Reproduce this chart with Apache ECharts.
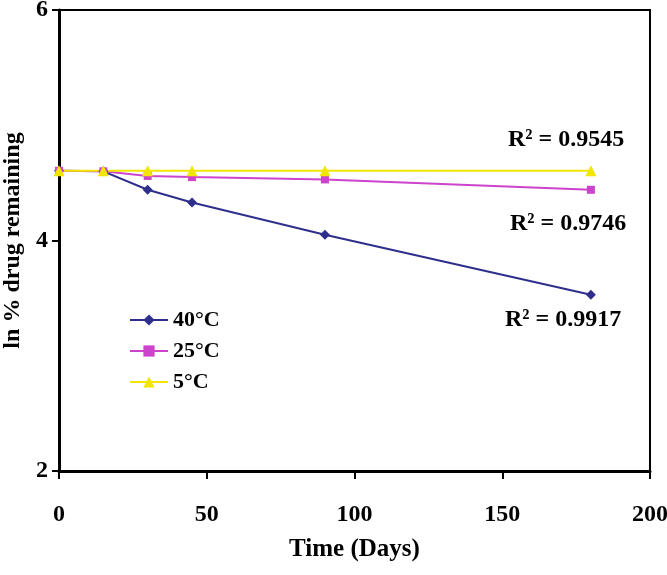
<!DOCTYPE html>
<html><head><meta charset="utf-8">
<script src="https://cdn.jsdelivr.net/npm/echarts@6/dist/echarts.min.js"></script>
<style>html,body{margin:0;padding:0;background:#fff}#c{width:667px;height:575px}</style>
</head><body><div id="c"></div>
<script>
const days = [0, 15, 30, 45, 90, 180];
const s40 = [4.605, 4.60, 4.44, 4.33, 4.05, 3.53];
const s25 = [4.605, 4.60, 4.56, 4.55, 4.53, 4.44];
const s5  = [4.605, 4.605, 4.605, 4.605, 4.605, 4.605];
const names = ['40°C', '25°C', '5°C'];
const r2 = ['R² = 0.9917', 'R² = 0.9746', 'R² = 0.9545'];
const xTicks = [0, 50, 100, 150, 200];
const yTicks = [2, 4, 6];

const font = '"Liberation Serif", "DejaVu Serif", serif';
const chart = echarts.init(document.getElementById('c'));
const pair = (arr) => days.map((d, i) => [d, arr[i]]);
chart.setOption({
  animation: false,
  grid: {left: 59, right: 17, top: 10, bottom: 104, show: true, borderColor: '#000', borderWidth: 2,
         containLabel: false, outerBoundsMode: 'none'},
  xAxis: {
    type: 'value', min: xTicks[0], max: xTicks[xTicks.length - 1], interval: 50,
    name: 'Time (Days)', nameLocation: 'middle', nameGap: 66,
    nameTextStyle: {fontFamily: font, fontWeight: 'bold', fontSize: 25, color: '#000'},
    axisLine: {lineStyle: {color: '#000', width: 3}},
    axisTick: {show: true, length: 8, lineStyle: {color: '#000', width: 2}},
    axisLabel: {fontFamily: font, fontWeight: 'bold', fontSize: 24, color: '#000', margin: 32},
    splitLine: {show: false}
  },
  yAxis: {
    type: 'value', min: yTicks[0], max: yTicks[yTicks.length - 1], interval: 2,
    name: 'ln % drug remaining', nameLocation: 'middle', nameGap: 34, nameRotate: 90,
    nameTextStyle: {fontFamily: font, fontWeight: 'bold', fontSize: 24, color: '#000'},
    axisLine: {lineStyle: {color: '#000', width: 3}},
    axisTick: {show: true, length: 7, lineStyle: {color: '#000', width: 2}},
    axisLabel: {fontFamily: font, fontWeight: 'bold', fontSize: 24, color: '#000', margin: 11},
    splitLine: {show: false}
  },
  legend: {
    orient: 'vertical', left: 124, top: 304, itemGap: 9, itemWidth: 38, itemHeight: 14,
    textStyle: {fontFamily: font, fontWeight: 'bold', fontSize: 22, color: '#000'},
    data: names
  },
  series: [
    {name: names[0], type: 'line', data: pair(s40), symbol: 'diamond', symbolSize: 10,
     lineStyle: {color: '#2e2e8c', width: 2}, itemStyle: {color: '#2e2e8c'}},
    {name: names[1], type: 'line', data: pair(s25), symbol: 'rect', symbolSize: 8,
     lineStyle: {color: '#cc44cc', width: 2}, itemStyle: {color: '#cc44cc'}},
    {name: names[2], type: 'line', data: pair(s5), symbol: 'triangle', symbolSize: 11,
     lineStyle: {color: '#f2e600', width: 2}, itemStyle: {color: '#f2e600'}}
  ],
  graphic: [
    {type: 'text', left: 508, top: 128, style: {text: r2[2], font: 'bold 24px ' + font, fill: '#000'}},
    {type: 'text', left: 510, top: 212, style: {text: r2[1], font: 'bold 24px ' + font, fill: '#000'}},
    {type: 'text', left: 505, top: 308, style: {text: r2[0], font: 'bold 24px ' + font, fill: '#000'}}
  ]
});
</script></body></html>
